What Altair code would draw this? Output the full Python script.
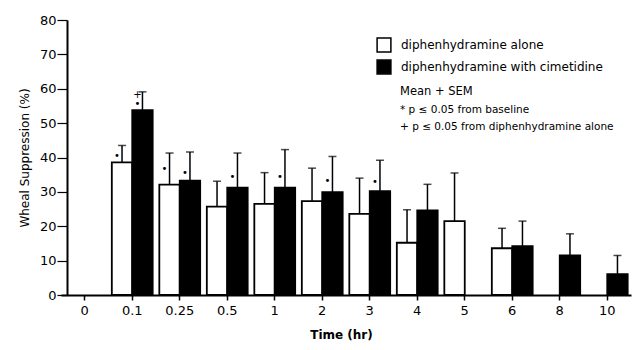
import altair as alt
import pandas as pd

times = ["0", "0.1", "0.25", "0.5", "1", "2", "3", "4", "5", "6", "8", "10"]
groups = ["diphenhydramine alone", "diphenhydramine with cimetidine"]

alone_mean = [None, 38.6, 32.1, 25.7, 26.5, 27.3, 23.6, 15.2, 21.5, 13.6, None, None]
alone_sem = [None, 4.9, 9.2, 7.4, 9.1, 9.6, 10.4, 9.6, 14.0, 5.8, None, None]
cim_mean = [None, 53.8, 33.3, 31.2, 31.2, 29.9, 30.2, 24.6, None, 14.2, 11.5, 6.1]
cim_sem = [None, 5.3, 8.3, 10.1, 11.1, 10.4, 9.0, 7.6, None, 7.3, 6.3, 5.4]

# significance markers: time, group index, symbol, y position (data units)
sig_time = ["0.1", "0.25", "0.25", "0.5", "1", "2", "3", "0.1", "0.1"]
sig_group = [0, 0, 1, 1, 1, 1, 1, 1, 1]
sig_symbol = ["•", "•", "•", "•", "•", "•", "•", "•", "+"]
sig_y = [40.3, 36.8, 35.6, 34.3, 34.3, 33.3, 32.8, 55.5, 58.3]

note_lines = ["Mean + SEM", "* p ≤ 0.05 from baseline", "+ p ≤ 0.05 from diphenhydramine alone"]

rows = []
for i, t in enumerate(times):
    for g, means, sems in ((groups[0], alone_mean, alone_sem), (groups[1], cim_mean, cim_sem)):
        if means[i] is not None:
            rows.append({"time": t, "group": g, "mean": means[i], "top": means[i] + sems[i]})
df = pd.DataFrame(rows)

sig_df = pd.DataFrame({
    "time": sig_time,
    "group": [groups[k] for k in sig_group],
    "symbol": sig_symbol,
    "y": sig_y,
})

FONT = "DejaVu Sans"

x_axis = alt.Axis(
    title="Time (hr)", labelAngle=0, labelFontSize=13, labelFont=FONT,
    tickSize=5, tickWidth=1.5, labelPadding=4, domainWidth=2,
    titleFontSize=12, titleFont=FONT, titleFontWeight="bold", titlePadding=12,
    titleX=274, labelColor="black", titleColor="black", domainColor="black", tickColor="black",
)
y_axis = alt.Axis(
    title="Wheal Suppression (%)", values=list(range(0, 81, 10)), tickCount=9,
    labelOverlap=False, grid=False,
    labelFontSize=13, labelFont=FONT, tickSize=10, tickWidth=1.2, domainWidth=2,
    labelPadding=1, titleFontSize=12, titleFont=FONT, titleFontWeight="normal",
    titlePadding=8, labelColor="black", titleColor="black", domainColor="black", tickColor="black",
)
x_scale = alt.Scale(domain=times, range=[-6, 564], paddingInner=0.14, paddingOuter=0.07)
xo_scale = alt.Scale(domain=groups, paddingInner=0, paddingOuter=0)
y_scale = alt.Scale(domain=[0, 80], nice=False)


def X():
    return alt.X("time:N", sort=times, scale=x_scale, axis=x_axis)


def XO():
    return alt.XOffset("group:N", scale=xo_scale)


def Y(field):
    return alt.Y(field, scale=y_scale, axis=y_axis)


bars = alt.Chart(df).mark_bar(stroke="black", strokeWidth=1.8).encode(
    x=X(), xOffset=XO(), y=Y("mean:Q"),
    fill=alt.Fill(
        "group:N",
        scale=alt.Scale(domain=groups, range=["white", "black"]),
        legend=alt.Legend(
            orient="none", legendX=309, legendY=17, title=None, symbolType="square",
            symbolSize=190, symbolStrokeColor="black", symbolStrokeWidth=1.5,
            labelFontSize=12, labelFont=FONT, labelColor="black", labelLimit=400,
            rowPadding=2, labelOffset=9,
        ),
    ),
)

err = alt.Chart(df).mark_rule(color="black", strokeWidth=1.5).encode(
    x=X(), xOffset=XO(), y=Y("mean:Q"), y2="top:Q",
)
caps = alt.Chart(df).mark_tick(color="black", size=8, thickness=1.5).encode(
    x=X(), xOffset=XO(), y=Y("top:Q"),
)

sig = alt.Chart(sig_df).mark_text(color="black", fontSize=10, dx=-5, font=FONT, baseline="middle").encode(
    x=X(), xOffset=XO(), y=Y("y:Q"), text="symbol:N",
)

notes = []
for txt, yy, fs in zip(note_lines, [72, 90, 107], [11.5, 10.5, 10.5]):
    notes.append(
        alt.Chart(pd.DataFrame({"t": [txt]})).mark_text(
            align="left", baseline="middle", fontSize=fs, font=FONT, color="black"
        ).encode(x=alt.value(333), y=alt.value(yy), text="t:N")
    )

chart = alt.layer(bars, err, caps, sig, *notes).properties(
    width=570, height=275,
    autosize=alt.AutoSizeParams(type="none"),
    padding={"left": 67, "top": 20, "right": 2, "bottom": 55},
).configure(background="white").configure_view(stroke=None)

chart.save("out.html", embed_options={"renderer": "svg", "actions": False})
